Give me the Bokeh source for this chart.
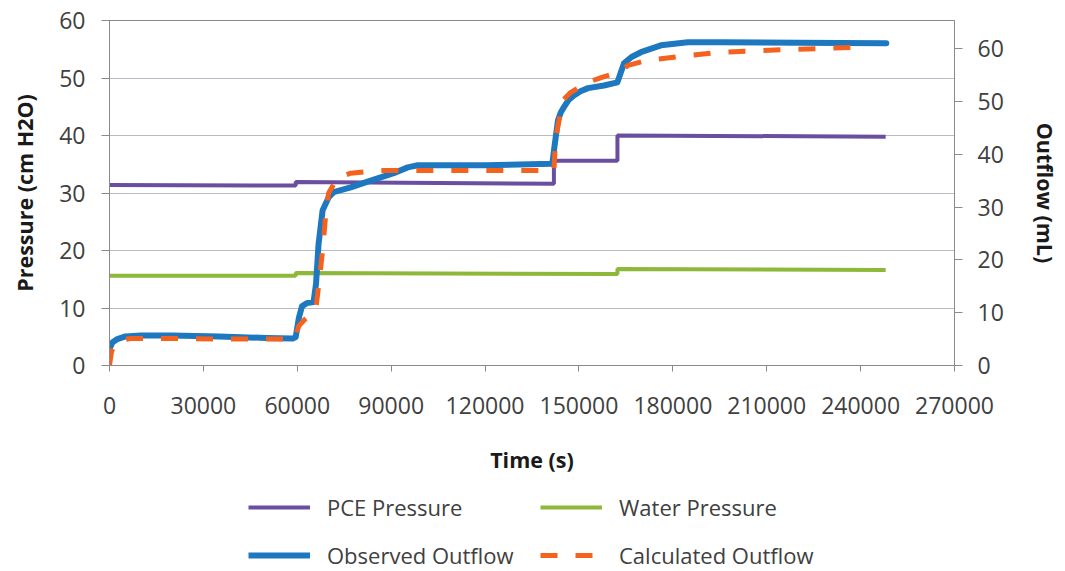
from bokeh.plotting import figure
from bokeh.layouts import column
from bokeh.models import (Range1d, LinearAxis, Legend, LegendItem, FixedTicker,
                          NumeralTickFormatter)
from bokeh.embed import file_html
from bokeh.resources import INLINE

# --- data -------------------------------------------------------------------
# boundary pressures (cm H2O), stepped
pce_time = [0, 59500, 59500, 142000, 142000, 162300, 162300, 248000]
pce_pressure = [31.4, 31.3, 31.9, 31.6, 35.6, 35.6, 40.0, 39.8]

water_time = [0, 59500, 59500, 162300, 162300, 248000]
water_pressure = [15.6, 15.6, 16.1, 15.9, 16.8, 16.6]

# cumulative outflow (mL)
obs_time = [0, 1000, 2500, 5100, 10000, 20000, 35000, 50000, 58500, 59500,
            60500, 61500, 63000, 65200, 66000, 66800, 68100, 70000, 71600,
            77100, 82500, 90800, 95300, 98500, 120000, 141500, 142200, 143300,
            144200, 145200, 146600, 148400, 150500, 152900, 158000, 162300,
            164400, 166800, 169800, 176200, 184800, 195400, 220000, 248200]
obs_outflow = [3.2, 4.4, 5.0, 5.5, 5.7, 5.7, 5.5, 5.2, 5.1, 5.4,
               9.0, 11.2, 11.8, 12.0, 15.5, 23.0, 29.4, 31.8, 32.8,
               33.7, 34.8, 36.4, 37.5, 37.9, 37.9, 38.2, 41.5, 46.4,
               47.9, 48.9, 50.2, 51.1, 51.9, 52.5, 53.0, 53.6,
               57.2, 58.4, 59.3, 60.6, 61.2, 61.2, 61.1, 61.0]

calc_time = [0, 600, 1500, 3500, 6700, 20000, 40000, 57900, 59200, 60500,
             62700, 65500, 66000, 67000, 68100, 69000, 70000, 72900, 77100,
             85800, 142000, 142600, 144900, 147400, 152900, 157100, 162500,
             165700, 172000, 182600, 195400, 216800, 237900, 241700]
calc_outflow = [0.0, 2.5, 4.0, 4.8, 5.1, 5.1, 5.0, 5.0, 5.2, 7.5,
                8.9, 10.2, 11.0, 16.0, 21.8, 28.0, 32.6, 35.6, 36.4,
                36.9, 36.9, 43.2, 50.2, 51.7, 53.6, 54.5, 55.5,
                56.8, 57.8, 58.5, 59.3, 59.8, 60.2, 60.3]

time_ticks = [0, 30000, 60000, 90000, 120000, 150000, 180000, 210000, 240000, 270000]
pressure_ticks = [0, 10, 20, 30, 40, 50, 60]
outflow_ticks = [0, 10, 20, 30, 40, 50, 60]

series = {
    "PCE Pressure": (pce_time, pce_pressure),
    "Water Pressure": (water_time, water_pressure),
    "Observed Outflow": (obs_time, obs_outflow),
    "Calculated Outflow": (calc_time, calc_outflow),
}

# --- styling ----------------------------------------------------------------
FONT = "Open Sans"
TICK_COLOR = "#404040"
AXIS_COLOR = "#8a8a8a"
PURPLE = "#6a4fa0"
GREEN = "#8db83a"
BLUE = "#1e78c0"
ORANGE = "#f5621e"

series_styles = {
    "PCE Pressure": dict(line_color=PURPLE, line_width=4),
    "Water Pressure": dict(line_color=GREEN, line_width=4),
    "Observed Outflow": dict(line_color=BLUE, line_width=6),
    "Calculated Outflow": dict(line_color=ORANGE, line_width=5, line_dash="17 18"),
}

p = figure(width=1065, height=480, output_backend="svg", toolbar_location=None,
           x_range=Range1d(0, 270000), y_range=Range1d(0, 60),
           min_border_left=109, min_border_right=111, min_border_top=20,
           min_border_bottom=115, background_fill_color="white",
           border_fill_color="white")
p.extra_y_ranges = {"outflow": Range1d(0, 65.3)}

p.outline_line_color = AXIS_COLOR
p.outline_line_width = 1
p.xgrid.visible = False
p.ygrid.grid_line_color = "#b8bac6"
p.ygrid.grid_line_width = 1
p.ygrid.ticker = FixedTicker(ticks=pressure_ticks)

def style_axis(ax):
    ax.axis_line_color = AXIS_COLOR
    ax.major_tick_line_color = AXIS_COLOR
    ax.minor_tick_line_color = None
    ax.major_tick_in = 0
    ax.major_tick_out = 8
    ax.major_label_text_font = FONT
    ax.major_label_text_font_size = "23px"
    ax.major_label_text_color = TICK_COLOR
    ax.axis_label_text_font = FONT
    ax.axis_label_text_font_size = "21.5px"
    ax.axis_label_text_font_style = "bold"
    ax.axis_label_text_color = "#1a1a1a"

xa = p.xaxis[0]
style_axis(xa)
xa.ticker = FixedTicker(ticks=time_ticks)
xa.formatter = NumeralTickFormatter(format="0")
xa.major_tick_out = 6
xa.major_label_standoff = 25
xa.axis_label = "Time (s)"
xa.axis_label_standoff = 28

ya = p.yaxis[0]
style_axis(ya)
ya.ticker = FixedTicker(ticks=pressure_ticks)
ya.major_label_standoff = 16
ya.axis_label = "Pressure (cm H2O)"
ya.axis_label_standoff = 17

ya2 = LinearAxis(y_range_name="outflow", ticker=FixedTicker(ticks=outflow_ticks))
style_axis(ya2)
ya2.major_label_standoff = 15
ya2.axis_label = "Outflow (mL)"
ya2.axis_label_standoff = 24
p.add_layout(ya2, "right")

# --- series -----------------------------------------------------------------
p.line(*series["PCE Pressure"], **series_styles["PCE Pressure"])
p.line(*series["Water Pressure"], **series_styles["Water Pressure"])
p.line(*series["Observed Outflow"], y_range_name="outflow", line_join="round",
       line_cap="round", **series_styles["Observed Outflow"])
p.line(*series["Calculated Outflow"], y_range_name="outflow",
       **series_styles["Calculated Outflow"])

# --- legend strip beneath the chart ------------------------------------------
# The strip's ranges sit far from the data, so its renderers only feed the
# legend swatches and stay out of view.
leg = figure(width=1065, height=91, output_backend="svg", toolbar_location=None,
             x_range=Range1d(-2000, -1000), y_range=Range1d(-2000, -1000),
             x_axis_location=None, y_axis_location=None, min_border=0,
             outline_line_color=None, background_fill_color="white",
             border_fill_color="white")
leg.grid.visible = False

def legend_items(names):
    return [LegendItem(label=n, renderers=[leg.line(*series[n], **series_styles[n])])
            for n in names]

def make_legend(items, x):
    return Legend(items=items, location=(x, 1), orientation="vertical",
                  glyph_width=62, glyph_height=24, label_height=24,
                  label_standoff=17, spacing=18, padding=0, margin=0,
                  border_line_color=None, background_fill_alpha=0,
                  label_text_font=FONT, label_text_font_size="22px",
                  label_text_color=TICK_COLOR)

# legend frame lines up with the chart frame (left edge at 109 px)
leg.add_layout(make_legend(legend_items(["PCE Pressure", "Observed Outflow"]), 139))
leg.add_layout(make_legend(legend_items(["Water Pressure", "Calculated Outflow"]), 431))

open("out.html", "w").write(file_html(column(p, leg, spacing=0), INLINE))
